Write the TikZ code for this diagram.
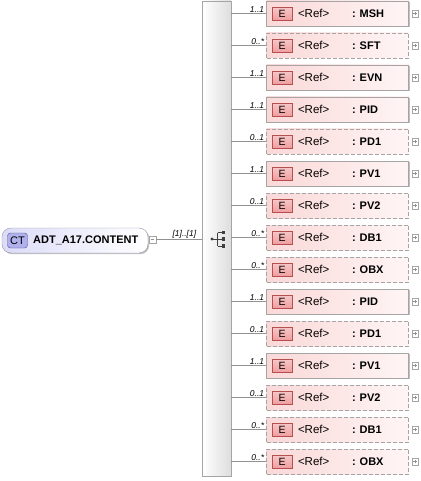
\documentclass[tikz,border=0pt]{standalone}
\usepackage{fontspec}
\setmainfont{Liberation Sans}
\usetikzlibrary{shadows}
\definecolor{elemfill}{RGB}{250,216,216}
\definecolor{elemlight}{RGB}{255,245,245}
\definecolor{elemedge}{RGB}{165,165,165}
\definecolor{eiconfill}{RGB}{240,160,160}
\definecolor{eiconedge}{RGB}{180,80,80}
\definecolor{ctfill}{RGB}{220,220,248}
\definecolor{ctedge}{RGB}{150,150,175}
\definecolor{cticonfill}{RGB}{176,176,236}
\definecolor{cticonedge}{RGB}{80,80,140}
\definecolor{seqfill}{RGB}{238,238,238}
\definecolor{linegray}{RGB}{145,145,145}
\tikzset{
	softshadow/.style={drop shadow={shadow xshift=1.2pt,shadow yshift=-1.2pt,opacity=0.25,fill=black}},
	seqbar/.style={draw=elemedge,left color=white,right color=seqfill!85!gray,minimum width=29pt,minimum height=475pt,inner sep=0pt,softshadow},
	ctbox/.style={draw=ctedge,rounded corners=9pt,left color=ctfill,right color=white,minimum width=146pt,minimum height=25pt,inner sep=0pt,softshadow},
	cticon/.style={draw=cticonedge,fill=cticonfill,rounded corners=3pt,minimum width=20pt,minimum height=15pt,inner sep=0pt,font=\fontsize{11}{13}\selectfont},
	elembox/.style={left color=elemfill,right color=elemlight,minimum width=142pt,minimum height=25pt,inner sep=0pt},
	req/.style={draw=elemedge,softshadow},
	opt/.style={draw=elemedge,dash pattern=on 4pt off 2pt},
	eicon/.style={draw=eiconedge,top color=eiconfill!60!white,bottom color=eiconfill,solid,minimum width=20pt,minimum height=12.5pt,inner sep=0pt,font=\fontsize{10.5}{12}\selectfont},
	plusbox/.style={draw=elemedge,fill=white,solid,minimum size=6.5pt,inner sep=0pt},
	conn/.style={draw=linegray,solid},
	card/.style={font=\fontsize{8.5}{10}\selectfont\itshape,inner sep=1pt},
	reftext/.style={inner sep=0pt,font=\fontsize{11.5}{13}\selectfont},
	segtext/.style={inner sep=0pt,font=\fontsize{11}{13}\selectfont\bfseries}
}
\begin{document}
\begin{tikzpicture}[x=1pt,y=-1pt]
	\useasboundingbox (0,0) rectangle (420,481);
	\node[seqbar] (seq) at (216.5,238.5) {};
	\node[ctbox] (root) at (75,240.5) {};
	\node[cticon] (ct) at (17.5,240.5) {CT};
	\node[segtext,anchor=west] (rootname) at (33,240.5) {ADT\_A17.CONTENT};
	\node[plusbox] (minus) at (152.5,239.5) {};
	\draw[linegray] ([xshift=1.5pt]minus.west) -- ([xshift=-1.5pt]minus.east);
	\draw[conn] (minus.east) -- (minus.east -| seq.west) node[pos=0.62,above,card] {[1]..[1]};
	\draw[black!75,line width=0.8pt] (212,239) -- (217.5,239) (217.5,232.5) -- (217.5,246) (217.5,232.5) -- (222,232.5) (217.5,239) -- (222,239) (217.5,246) -- (222,246);
	\fill[black!75] (212,239) circle (1.7pt);
	\foreach \yy in {232.5,239,246} \fill[black!75] (221.5,\yy-1.6) rectangle (224.7,\yy+1.6);
	\foreach \seg/\card/\kind [count=\i from 0] in {MSH/1..1/req,SFT/0..*/opt,EVN/1..1/req,PID/1..1/req,PD1/0..1/opt,PV1/1..1/req,PV2/0..1/opt,DB1/0..*/opt,OBX/0..*/opt,PID/1..1/req,PD1/0..1/opt,PV1/1..1/req,PV2/0..1/opt,DB1/0..*/opt,OBX/0..*/opt}{
		\node[elembox,\kind] (b\i) at (337.5,{13.5+32*\i}) {};
		\node[eicon,anchor=west] (e\i) at ([xshift=5.5pt]b\i.west) {E};
		\node[reftext,anchor=west] (r\i) at ([xshift=31.5pt]b\i.west) {<Ref>};
		\node[segtext,anchor=west] (n\i) at ([xshift=85.5pt]b\i.west) {: \seg};
		\node[plusbox] (p\i) at ([xshift=6.5pt]b\i.east) {};
		\draw[linegray] ([xshift=1.5pt]p\i.west) -- ([xshift=-1.5pt]p\i.east) ([yshift=1.5pt]p\i.south) -- ([yshift=-1.5pt]p\i.north);
		\draw[conn] (b\i.west -| seq.east) -- (b\i.west) node[pos=1,above left,xshift=-1pt,card] {\card};
	}
\end{tikzpicture}
\end{document}
